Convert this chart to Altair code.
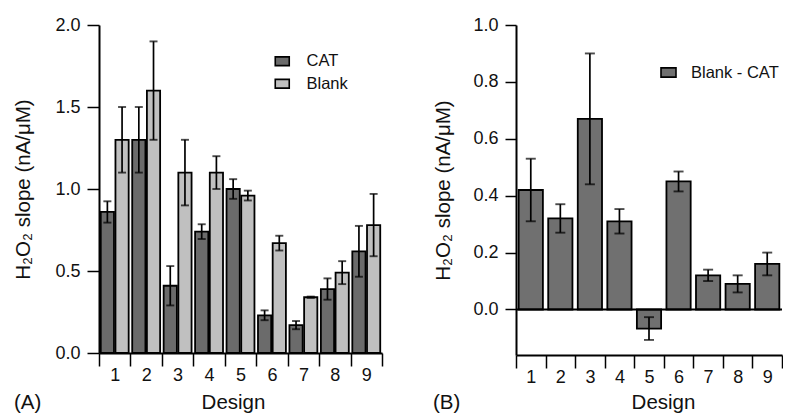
import altair as alt
import pandas as pd

# ---- data ----
designs = [1, 2, 3, 4, 5, 6, 7, 8, 9]
cat_vals = [0.86, 1.30, 0.41, 0.74, 1.00, 0.23, 0.17, 0.39, 0.62]
cat_err = [0.065, 0.20, 0.12, 0.045, 0.06, 0.03, 0.025, 0.065, 0.155]
blank_vals = [1.30, 1.60, 1.10, 1.10, 0.96, 0.67, 0.34, 0.49, 0.78]
blank_err = [0.20, 0.30, 0.20, 0.10, 0.03, 0.045, 0.004, 0.07, 0.19]
diff_vals = [0.42, 0.32, 0.67, 0.31, -0.067, 0.45, 0.12, 0.09, 0.16]
diff_err = [0.11, 0.05, 0.23, 0.043, 0.04, 0.035, 0.02, 0.03, 0.04]
series_a = ["CAT", "Blank"]
series_b = ["Blank - CAT"]
colors_a = ["#6b6b6b", "#c0c0c0"]
colors_b = ["#707070"]
left_ticks = [0.0, 0.5, 1.0, 1.5, 2.0]
right_ticks = [0.0, 0.2, 0.4, 0.6, 0.8, 1.0]

FONT = "Liberation Sans"
YTITLE = "H\u2082O\u2082 slope (nA/\u03bcM)"
RECT = "M-1,-0.62L1,-0.62L1,0.62L-1,0.62Z"

df_a = pd.DataFrame({
    "design": designs * 2,
    "series": [series_a[0]] * 9 + [series_a[1]] * 9,
    "value": cat_vals + blank_vals,
    "err": cat_err + blank_err,
})
df_b = pd.DataFrame({
    "design": designs,
    "series": series_b * 9,
    "value": diff_vals,
    "err": diff_err,
})

# ---------------- panel A ----------------
xa = alt.X("design:O", title="Design",
           scale=alt.Scale(paddingInner=0, paddingOuter=0),
           axis=alt.Axis(labelAngle=0, tickBand="extent", tickSize=13, labelPadding=0,
                         titleX=134, titleY=55, titleBaseline="alphabetic"))
xoff_a = alt.XOffset("series:N", sort=series_a,
                     scale=alt.Scale(domain=series_a, paddingInner=0.1, paddingOuter=0.12))
ya_scale = alt.Scale(domain=[0, 2], nice=False)
ya_axis = alt.Axis(values=left_ticks, format=".1f", tickSize=12, labelPadding=7,
                   titleX=-76, titleBaseline="middle")


def ya(field):
    return alt.Y(field, scale=ya_scale, axis=ya_axis, title=YTITLE)


base_a = alt.Chart(df_a).transform_calculate(
    lo="datum.value - datum.err", hi="datum.value + datum.err"
).encode(x=xa, xOffset=xoff_a)

bars_a = base_a.mark_bar(stroke="black", strokeWidth=1.8).encode(
    y=ya("value:Q"),
    color=alt.Color("series:N", sort=series_a,
                    scale=alt.Scale(domain=series_a, range=colors_a),
                    legend=alt.Legend(orient="none", legendX=175, legendY=28, title=None,
                                      symbolType=RECT, symbolSize=196,
                                      symbolStrokeColor="black", symbolStrokeWidth=1.6,
                                      symbolOpacity=1, labelFontSize=16.5, labelOffset=16,
                                      rowPadding=5.5, labelFont=FONT, labelColor="#111")),
)
rule_a = base_a.mark_rule(color="black", strokeWidth=1.7).encode(y=ya("lo:Q"), y2="hi:Q")
cap_hi_a = base_a.mark_tick(color="black", size=8, thickness=1.9).encode(y=ya("hi:Q"))
cap_lo_a = base_a.mark_tick(color="black", size=8, thickness=1.9).encode(y=ya("lo:Q"))
lab_a = alt.Chart(pd.DataFrame({"t": ["(A)"]})).mark_text(
    align="left", baseline="alphabetic", fontSize=20.5, font=FONT, color="#111"
).encode(text="t:N", x=alt.value(-85), y=alt.value(384))

panel_a = alt.layer(bars_a, rule_a, cap_hi_a, cap_lo_a, lab_a).properties(width=283, height=328)

# ---------------- panel B ----------------
xb = alt.X("design:O", title="Design",
           scale=alt.Scale(paddingInner=0, paddingOuter=0),
           axis=alt.Axis(labelAngle=0, tickBand="extent", tickSize=13, labelPadding=0,
                         titleX=147, titleY=53, titleBaseline="alphabetic"))
yb_scale = alt.Scale(domain=[-0.16, 1.0], nice=False)
yb_axis = alt.Axis(values=right_ticks, format=".1f", tickSize=11, labelPadding=7,
                   titleX=-73, titleBaseline="middle")


def yb(field):
    return alt.Y(field, scale=yb_scale, axis=yb_axis, title=YTITLE)


base_b = alt.Chart(df_b).transform_calculate(
    lo="datum.value - datum.err", hi="datum.value + datum.err"
).encode(x=xb)

bars_b = base_b.mark_bar(stroke="black", strokeWidth=1.8, width=alt.RelativeBandSize(0.82)).encode(
    y=yb("value:Q"),
    color=alt.Color("series:N",
                    scale=alt.Scale(domain=series_b, range=colors_b),
                    legend=alt.Legend(orient="none", legendX=144, legendY=39, title=None,
                                      symbolType=RECT, symbolSize=225,
                                      symbolStrokeColor="black", symbolStrokeWidth=1.6,
                                      symbolOpacity=1, labelFontSize=16.5, labelOffset=14,
                                      labelFont=FONT, labelColor="#111")),
)
zero_b = alt.Chart(pd.DataFrame({"z": [0.0]})).mark_rule(color="black", strokeWidth=2).encode(
    y=yb("z:Q"))
rule_b = base_b.mark_rule(color="black", strokeWidth=1.7).encode(y=yb("lo:Q"), y2="hi:Q")
cap_hi_b = base_b.mark_tick(color="black", size=10, thickness=1.9).encode(y=yb("hi:Q"))
cap_lo_b = base_b.mark_tick(color="black", size=10, thickness=1.9).encode(y=yb("lo:Q"))
lab_b = alt.Chart(pd.DataFrame({"t": ["(B)"]})).mark_text(
    align="left", baseline="alphabetic", fontSize=20.5, font=FONT, color="#111"
).encode(text="t:N", x=alt.value(-83), y=alt.value(384))

panel_b = alt.layer(bars_b, zero_b, rule_b, cap_hi_b, cap_lo_b, lab_b).properties(width=266, height=330)

chart = alt.hconcat(panel_a, panel_b, spacing=134, bounds="flush").resolve_scale(
    x="independent", y="independent", color="independent"
).properties(
    padding={"left": 5, "top": 8, "right": 0, "bottom": 0},
    background="white",
).configure_view(stroke=None).configure_axis(
    domainColor="black", domainWidth=2, tickColor="black", tickWidth=1.5,
    labelColor="#111", titleColor="#111", grid=False,
    labelFont=FONT, titleFont=FONT, titleFontWeight="normal",
    labelFontSize=18, titleFontSize=20.5,
)

chart.save("out.html", embed_options={"renderer": "svg", "actions": False})
